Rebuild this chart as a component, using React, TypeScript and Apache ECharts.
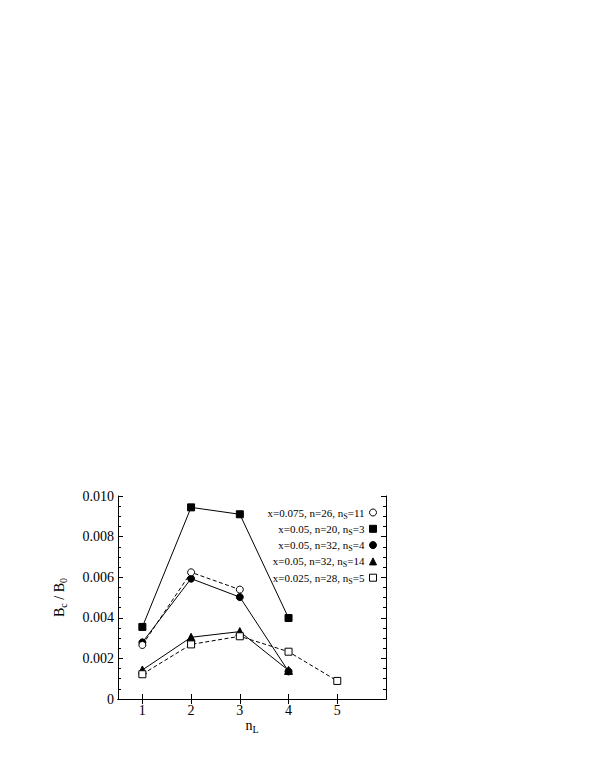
import { useEffect, useRef } from 'react';
import * as echarts from 'echarts';

// x positions (n_L)
const nL = [1, 2, 3, 4, 5];
// legend parameters
const xParam = ['0.075', '0.05', '0.05', '0.05', '0.025'];
const nParam = [26, 20, 32, 32, 28];
const nsParam = [11, 3, 4, 14, 5];
// series values (Bc/B0)
const openCircle = [0.00266, 0.00624, 0.00539];
const filledSquare = [0.00355, 0.00944, 0.0091, 0.00399];
const filledCircle = [0.00279, 0.00593, 0.00502, 0.00136];
const filledTriangle = [0.00143, 0.00304, 0.00332, 0.00141];
const openSquare = [0.00122, 0.00269, 0.00309, 0.00233, 0.00089];
// axis ticks
const xTickValues = [1, 2, 3, 4, 5];
const yTickLabels = ['0', '0.002', '0.004', '0.006', '0.008', '0.010'];

const FONT = '"Liberation Serif", "Times New Roman", serif';

const names = xParam.map((x, i) => `x=${x}, n=${nParam[i]}, nS=${nsParam[i]}`);

export default function App() {
  const ref = useRef<HTMLDivElement>(null);
  useEffect(() => {
    document.body.style.margin = '0';
    if (!ref.current) return;
    const chart = echarts.init(ref.current, null, { renderer: 'svg' });

    const pts = (vals: number[]) => vals.map((v, i) => [nL[i], v]);
    const styles = [
      { vals: openCircle, symbol: 'circle', fill: '#fff', dashed: true, size: 7 },
      { vals: filledSquare, symbol: 'rect', fill: '#000', dashed: false, size: 7 },
      { vals: filledCircle, symbol: 'circle', fill: '#000', dashed: false, size: 7 },
      { vals: filledTriangle, symbol: 'triangle', fill: '#000', dashed: false, size: 8 },
      { vals: openSquare, symbol: 'rect', fill: '#fff', dashed: true, size: 7 },
    ];
    const drawOrder = [1, 2, 3, 4, 0];

    const series = drawOrder.map((idx) => {
      const s = styles[idx];
      return {
        type: 'line',
        name: names[idx],
        data: pts(s.vals),
        symbol: s.symbol,
        symbolSize: s.size,
        showAllSymbol: true,
        lineStyle: { color: '#000', width: 1, type: s.dashed ? [4, 2.5] : 'solid' },
        itemStyle: { color: s.fill, borderColor: '#000', borderWidth: 1 },
        emphasis: { disabled: true },
      };
    });

    const axisLine = { show: true, lineStyle: { color: '#000', width: 1 } };

    chart.setOption({
      animation: false,
      textStyle: { fontFamily: FONT, color: '#000' },
      grid: { left: 118, right: 218, top: 496, bottom: 82 },
      legend: {
        orient: 'vertical',
        align: 'right',
        right: 227,
        top: 507,
        padding: 0,
        itemGap: 3.3,
        itemWidth: 7,
        itemHeight: 7,
        selectedMode: false,
        data: names.map((nm, i) => ({
          name: nm,
          icon: styles[i].symbol,
          itemStyle: { color: styles[i].fill, borderColor: '#000', borderWidth: 1 },
        })),
        formatter: (nm: string) => {
          const i = names.indexOf(nm);
          return `{m|x=${xParam[i]}, n=${nParam[i]}, n}{s|S}{m|=${nsParam[i]}}`;
        },
        textStyle: {
          fontFamily: FONT,
          color: '#000',
          rich: {
            m: { fontSize: 11, fontFamily: FONT, color: '#000', verticalAlign: 'middle' },
            s: { fontSize: 8, fontFamily: FONT, color: '#000', verticalAlign: 'bottom', padding: [7, 0, 0, 0] },
          },
        },
      },
      xAxis: [
        {
          type: 'value',
          min: 0.5,
          max: 6,
          position: 'bottom',
          axisLine,
          splitLine: { show: false },
          axisTick: { show: true, inside: true, length: 5, customValues: xTickValues, lineStyle: { color: '#000' } },
          axisLabel: { show: true, customValues: xTickValues, fontSize: 14, fontFamily: FONT, color: '#000', margin: 4 },
          name: '{m|n}{s|L}',
          nameLocation: 'middle',
          nameGap: 17,
          nameTextStyle: {
            fontFamily: FONT,
            color: '#000',
            rich: {
              m: { fontSize: 14, fontFamily: FONT, color: '#000', verticalAlign: 'middle' },
              s: { fontSize: 10, fontFamily: FONT, color: '#000', verticalAlign: 'bottom', padding: [8, 0, 0, 0] },
            },
          },
        },
        {
          type: 'value',
          min: 0.5,
          max: 6,
          position: 'top',
          axisLine,
          splitLine: { show: false },
          axisTick: { show: true, inside: true, length: 5, customValues: xTickValues, lineStyle: { color: '#000' } },
          axisLabel: { show: false },
        },
      ],
      yAxis: [
        {
          type: 'value',
          min: 0,
          max: 0.01,
          interval: 0.002,
          position: 'left',
          axisLine,
          splitLine: { show: false },
          axisTick: { show: true, inside: true, length: 5, lineStyle: { color: '#000' } },
          minorTick: { show: true, splitNumber: 4, length: 3, lineStyle: { color: '#000' } },
          axisLabel: {
            fontSize: 14,
            fontFamily: FONT,
            color: '#000',
            margin: 4,
            formatter: (v: number) => yTickLabels[Math.round(v / 0.002)],
          },
          name: '{m|B}{s|c}{m| / B}{s|0}',
          nameLocation: 'middle',
          nameRotate: 90,
          nameGap: 50,
          nameTextStyle: {
            fontFamily: FONT,
            color: '#000',
            rich: {
              m: { fontSize: 14, fontFamily: FONT, color: '#000', verticalAlign: 'middle' },
              s: { fontSize: 10, fontFamily: FONT, color: '#000', verticalAlign: 'bottom', padding: [8, 0, 0, 0] },
            },
          },
        },
        {
          type: 'value',
          min: 0,
          max: 0.01,
          interval: 0.002,
          position: 'right',
          axisLine,
          splitLine: { show: false },
          axisTick: { show: true, inside: true, length: 5, lineStyle: { color: '#000' } },
          minorTick: { show: true, splitNumber: 4, length: 3, lineStyle: { color: '#000' } },
          axisLabel: { show: false },
        },
      ],
      series,
    });

    return () => chart.dispose();
  }, []);

  return <div ref={ref} style={{ width: 604, height: 781 }} />;
}
